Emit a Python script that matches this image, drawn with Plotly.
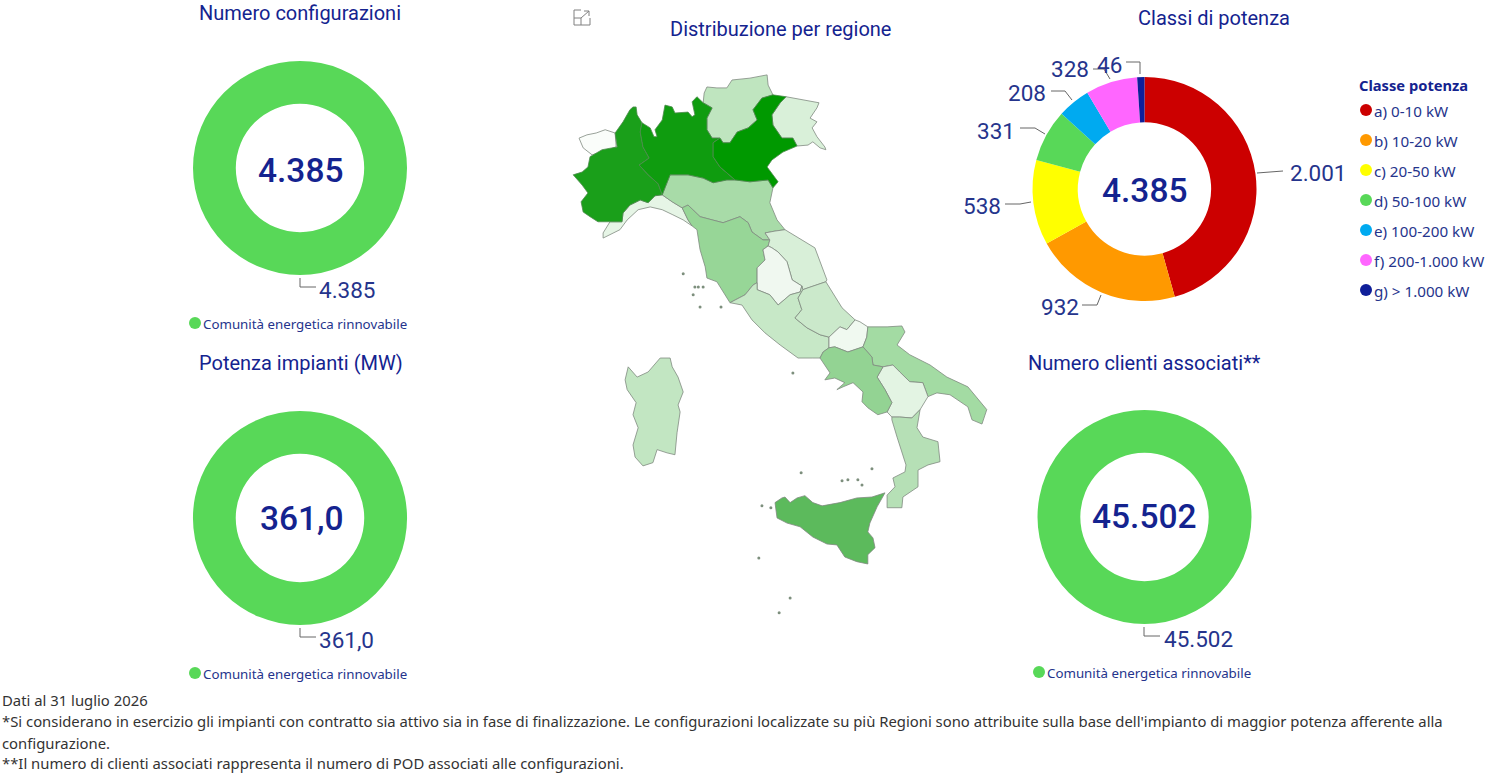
import plotly.graph_objects as go

# Page size
W = 1487
H = 774

# KPI values
configurazioni = 4385
potenza_mw = 361.0
clienti = 45502

# Power classes
classi = ["a) 0-10 kW", "b) 10-20 kW", "c) 20-50 kW", "d) 50-100 kW", "e) 100-200 kW", "f) 200-1.000 kW", "g) > 1.000 kW"]
classi_valori = [2001, 932, 538, 331, 208, 328, 46]
classi_colori = ["#cc0000", "#ff9900", "#ffff00", "#58d858", "#00aaf0", "#ff66ff", "#0f1f99"]

# Region outlines, (lon, lat)
valle_aosta = [(6.80,45.71),(7.03,45.78),(7.30,45.82),(7.56,45.89),(7.85,45.82),(7.88,45.52),(7.56,45.43),(7.18,45.35),(6.92,45.50)]
piemonte = [(8.37,46.38),(8.46,46.38),(8.49,46.21),(8.63,46.04),(8.58,45.84),(8.66,45.52),(8.84,45.28),(8.55,45.13),(8.81,44.92),(9.10,44.73),(9.22,44.49),(9.01,44.47),(8.81,44.32),(8.58,44.38),(8.28,44.27),(8.08,44.10),(8.05,43.91),(7.70,43.91),(7.35,43.91),(7.12,44.02),(6.92,44.12),(6.86,44.34),(7.06,44.53),(6.89,44.70),(6.63,44.92),(6.89,44.98),(7.06,45.09),(7.12,45.31),(7.47,45.46),(7.91,45.52),(7.85,45.82),(8.08,46.06),(8.28,46.32)]
liguria = [(9.22,44.49),(9.51,44.34),(9.80,44.21),(9.97,43.95),(10.09,43.82),(9.83,43.95),(9.53,44.06),(9.22,44.17),(8.87,44.23),(8.52,44.17),(8.20,43.95),(7.99,43.74),(7.50,43.56),(7.50,43.67),(7.70,43.91),(8.05,43.91),(8.08,44.10),(8.28,44.27),(8.58,44.38),(8.81,44.32),(9.01,44.47)]
lombardia = [(8.58,45.84),(8.63,46.04),(8.87,45.93),(8.98,45.74),(9.07,45.74),(9.01,45.89),(9.22,46.10),(9.30,46.42),(9.51,46.38),(9.59,46.25),(9.97,46.27),(10.09,46.17),(10.17,46.21),(10.09,46.49),(10.23,46.60),(10.41,46.47),(10.67,46.36),(10.52,46.14),(10.52,45.89),(10.67,45.71),(10.90,45.71),(10.70,45.61),(10.70,45.31),(10.90,45.09),(11.34,44.81),(11.10,44.81),(10.70,44.75),(10.41,44.85),(9.97,44.92),(9.65,44.92),(9.45,44.92),(9.30,44.64),(9.22,44.49),(9.10,44.73),(8.81,44.92),(8.55,45.13),(8.84,45.28),(8.66,45.52)]
veneto = [(10.90,45.71),(10.99,45.61),(11.19,45.61),(11.40,45.84),(11.72,45.93),(11.98,46.10),(11.86,46.32),(12.12,46.57),(12.44,46.64),(12.82,46.60),(12.65,46.47),(12.41,46.21),(12.44,45.99),(12.70,45.71),(13.02,45.71),(13.14,45.54),(12.73,45.41),(12.41,45.24),(12.27,45.09),(12.44,44.92),(12.59,44.77),(12.44,44.64),(12.30,44.81),(11.77,44.77),(11.34,44.81),(10.90,45.09),(10.70,45.31),(10.70,45.61)]
friuli = [(12.82,46.60),(13.31,46.53),(13.78,46.47),(13.72,46.36),(13.52,46.14),(13.72,46.06),(13.58,45.93),(13.72,45.74),(13.95,45.52),(13.98,45.46),(13.81,45.50),(13.60,45.63),(13.46,45.56),(13.14,45.54),(13.02,45.71),(12.70,45.71),(12.44,45.99),(12.41,46.21),(12.65,46.47)]
trentino = [(10.44,46.68),(10.52,46.81),(10.81,46.79),(11.10,46.79),(11.25,46.96),(11.77,47.00),(12.27,47.07),(12.30,46.85),(12.44,46.64),(12.12,46.57),(11.86,46.32),(11.98,46.10),(11.72,45.93),(11.40,45.84),(11.19,45.61),(10.99,45.61),(10.90,45.71),(10.67,45.71),(10.52,45.89),(10.52,46.14),(10.67,46.36),(10.41,46.47)]
emilia = [(9.22,44.49),(9.30,44.64),(9.45,44.92),(9.65,44.92),(9.97,44.92),(10.41,44.85),(10.70,44.75),(11.10,44.81),(11.34,44.81),(11.77,44.77),(12.30,44.81),(12.44,44.64),(12.35,44.32),(12.56,43.95),(12.79,43.74),(12.50,43.71),(12.21,43.67),(12.35,43.52),(12.15,43.52),(11.83,43.69),(11.72,43.89),(11.48,44.02),(10.99,43.89),(10.67,43.95),(10.32,44.02),(9.97,44.27),(9.80,44.21),(9.51,44.34)]
toscana = [(9.97,43.95),(10.09,43.82),(10.23,43.74),(10.32,43.31),(10.47,42.94),(10.52,42.70),(10.81,42.62),(10.99,42.40),(11.19,42.17),(11.63,42.34),(11.86,42.55),(11.98,42.60),(11.98,42.92),(12.21,43.09),(12.15,43.31),(12.30,43.39),(12.35,43.52),(12.15,43.52),(11.83,43.69),(11.72,43.89),(11.48,44.02),(10.99,43.89),(10.67,43.95),(10.32,44.02),(9.97,44.27),(9.80,44.21)]
marche = [(12.35,43.52),(12.21,43.67),(12.50,43.71),(12.79,43.74),(13.66,43.35),(14.01,42.66),(13.98,42.62),(13.46,42.49),(13.31,42.45),(13.28,42.53),(13.00,42.66),(12.85,43.05),(12.59,43.26),(12.41,43.35),(12.30,43.39)]
umbria = [(12.15,43.31),(12.30,43.39),(12.41,43.35),(12.59,43.26),(12.85,43.05),(13.00,42.66),(13.28,42.53),(13.23,42.40),(12.94,42.34),(12.59,42.12),(12.35,42.34),(11.98,42.45),(11.98,42.60),(11.98,42.92),(12.21,43.09)]
lazio = [(11.19,42.17),(11.63,42.34),(11.86,42.55),(11.98,42.60),(11.98,42.45),(12.35,42.34),(12.59,42.12),(12.94,42.34),(13.23,42.40),(13.28,42.53),(13.31,42.45),(13.17,42.27),(13.28,42.02),(13.08,41.84),(13.43,41.63),(13.81,41.48),(14.07,41.43),(14.07,41.20),(13.90,41.11),(13.81,40.98),(13.60,40.98),(13.17,40.98),(12.65,41.26),(12.21,41.52),(11.83,41.80),(11.54,42.12)]
abruzzo = [(13.98,42.62),(14.45,42.06),(14.83,41.80),(14.59,41.59),(14.39,41.65),(14.07,41.43),(13.81,41.48),(13.43,41.63),(13.08,41.84),(13.28,42.02),(13.17,42.27),(13.31,42.45),(13.46,42.49)]
molise = [(14.83,41.80),(14.97,41.76),(15.20,41.65),(15.17,41.43),(15.06,41.22),(14.83,41.16),(14.62,41.11),(14.24,41.22),(14.07,41.20),(14.07,41.43),(14.39,41.65),(14.59,41.59)]
puglia = [(15.20,41.65),(15.76,41.65),(16.19,41.67),(16.28,41.54),(16.05,41.26),(16.42,41.05),(17.01,40.83),(17.50,40.57),(18.11,40.36),(18.66,39.87),(18.52,39.56),(18.23,39.65),(18.11,39.93),(17.59,40.19),(17.21,40.23),(16.95,40.15),(16.80,40.45),(16.42,40.47),(16.13,40.68),(15.93,40.83),(15.64,40.79),(15.35,40.83),(15.32,41.00),(15.06,41.22),(15.17,41.43)]
campania = [(14.07,41.20),(14.24,41.22),(14.62,41.11),(14.83,41.16),(15.06,41.22),(15.32,41.00),(15.35,40.83),(15.64,40.79),(15.47,40.57),(15.70,40.30),(15.90,40.02),(15.76,39.82),(15.49,39.76),(15.20,39.91),(15.03,40.04),(15.06,40.25),(14.77,40.45),(14.48,40.36),(14.30,40.30),(14.53,40.45),(14.24,40.55),(13.95,40.51),(14.10,40.66),(13.81,40.98),(13.90,41.11)]
basilicata = [(15.64,40.79),(15.93,40.83),(16.13,40.68),(16.42,40.47),(16.80,40.45),(16.95,40.15),(16.72,39.87),(16.48,39.69),(16.13,39.71),(15.90,39.71),(15.76,39.82),(15.90,40.02),(15.70,40.30),(15.47,40.57)]
calabria = [(15.90,39.71),(16.13,39.71),(16.48,39.69),(16.72,39.87),(16.63,39.48),(16.80,39.28),(17.24,39.18),(17.30,38.75),(16.95,38.68),(16.66,38.57),(16.66,38.21),(16.22,37.99),(16.19,37.76),(15.76,37.76),(15.76,38.03),(15.99,38.21),(15.93,38.40),(16.28,38.53),(16.31,38.68),(16.19,38.94),(16.05,39.28),(15.90,39.65)]
sicilia = [(15.70,38.08),(15.47,37.78),(15.26,37.43),(15.20,37.24),(15.35,37.11),(15.41,36.90),(15.20,36.75),(15.20,36.55),(14.88,36.60),(14.53,36.70),(14.30,36.96),(14.01,36.98),(13.60,37.13),(13.23,37.35),(12.85,37.43),(12.56,37.54),(12.50,37.87),(12.70,37.97),(12.79,37.99),(12.94,37.87),(13.14,37.97),(13.37,38.02),(13.60,37.87),(13.87,37.80),(14.39,37.87),(14.88,37.97),(15.32,37.99)]
sardegna = [(9.16,40.98),(9.45,40.98),(9.51,40.79),(9.68,40.57),(9.83,40.25),(9.68,39.97),(9.74,39.82),(9.65,39.37),(9.59,38.90),(9.36,38.94),(9.07,39.01),(8.95,38.73),(8.66,38.66),(8.43,38.85),(8.37,39.11),(8.52,39.48),(8.37,39.76),(8.46,40.02),(8.20,40.30),(8.14,40.51),(8.23,40.79),(8.49,40.57),(8.81,40.68)]
isole_lon = [9.83,10.17,10.27,10.41,10.12,10.32,10.93,13.02,14.91,15.03,15.32,14.45,14.62,13.26,12.12,12.38,12.03,12.94,12.62]
isole_lat = [42.79,42.51,42.51,42.51,42.34,42.08,42.08,40.66,38.36,38.25,38.60,38.34,38.36,38.51,37.80,37.76,36.68,35.82,35.50]

regioni = [
    ("Valle d'Aosta", valle_aosta, "#fafdfa"), ("Liguria", liguria, "#e6f5e6"), ("Trentino-Alto Adige", trentino, "#bfe5bf"),
    ("Friuli-Venezia Giulia", friuli, "#d9f0d9"), ("Emilia-Romagna", emilia, "#a8dba8"), ("Toscana", toscana, "#97d697"),
    ("Marche", marche, "#d8efd8"), ("Umbria", umbria, "#f0f8f0"), ("Lazio", lazio, "#c7e8c7"), ("Abruzzo", abruzzo, "#cbe9cb"),
    ("Molise", molise, "#f0f9f0"), ("Puglia", puglia, "#a3dba3"), ("Basilicata", basilicata, "#e3f4e3"), ("Campania", campania, "#93d393"),
    ("Calabria", calabria, "#b6e0b6"), ("Sicilia", sicilia, "#5cba5c"), ("Sardegna", sardegna, "#c2e6c2"),
    ("Piemonte", piemonte, "#1a9f1a"), ("Lombardia", lombardia, "#0f9c0f"), ("Veneto", veneto, "#009900"),
]

note = [
    "Dati al 31 luglio 2026",
    "*Si considerano in esercizio gli impianti con contratto sia attivo sia in fase di finalizzazione. Le configurazioni localizzate su più Regioni sono attribuite sulla base dell'impianto di maggior potenza afferente alla",
    "configurazione.",
    "**Il numero di clienti associati rappresenta il numero di POD associati alle configurazioni.",
]

BLU = "#14238f"
BLU_LABEL = "#25348c"
VERDE = "#58d858"
TITLE_FONT = "Roboto"
TEXT_FONT = "Noto Sans"


def px(x):
    return x / W


def py(y):
    return 1 - y / H


def fmt_int(v):
    return f"{v:,}".replace(",", ".")


def add_text(fig, x, y, text, size, color=BLU, family=TITLE_FONT, anchor="center", weight=400):
    fig.add_annotation(x=px(x), y=py(y), xref="paper", yref="paper", text=text, showarrow=False,
                       xanchor=anchor, yanchor="middle", font=dict(size=size, color=color, family=family, weight=weight), borderpad=0)


def add_leader(fig, points, color="#666666"):
    path = "M " + " L ".join(f"{px(x)} {py(y)}" for x, y in points)
    fig.add_shape(type="path", path=path, xref="paper", yref="paper", line=dict(color=color, width=1))


def add_dot(fig, x, y, color, r=6):
    fig.add_shape(type="circle", xref="paper", yref="paper", x0=px(x - r), x1=px(x + r), y0=py(y + r), y1=py(y - r),
                  fillcolor=color, line=dict(width=0))


def add_donut(fig, cx, cy, r, values, colors, labels, hole):
    fig.add_trace(go.Pie(values=values, labels=labels, hole=hole, sort=False, direction="clockwise", rotation=0,
                         marker=dict(colors=colors, line=dict(width=0)), textinfo="none", showlegend=False,
                         domain=dict(x=[px(cx - r), px(cx + r)], y=[py(cy + r), py(cy - r)])))


fig = go.Figure()

# Map
for nome, punti, colore in regioni:
    bordo = "#4e8a4e" if nome in ("Piemonte", "Lombardia", "Veneto") else "#808a80"
    lon = [p[0] for p in punti] + [punti[0][0]]
    lat = [p[1] for p in punti] + [punti[0][1]]
    fig.add_trace(go.Scatter(x=lon, y=lat, mode="lines", fill="toself", fillcolor=colore, name=nome,
                             line=dict(color=bordo, width=0.8), hoverinfo="name", showlegend=False))
fig.add_trace(go.Scatter(x=isole_lon, y=isole_lat, mode="markers", marker=dict(size=3, color="#7d8f7d"),
                         hoverinfo="skip", showlegend=False))

# Donuts
add_donut(fig, 300, 168, 107, [configurazioni], [VERDE], ["Comunità energetica rinnovabile"], 0.6)
add_donut(fig, 300, 518, 107, [potenza_mw], [VERDE], ["Comunità energetica rinnovabile"], 0.6)
add_donut(fig, 1144.5, 517, 107, [clienti], [VERDE], ["Comunità energetica rinnovabile"], 0.6)
add_donut(fig, 1144.5, 189, 112, classi_valori, classi_colori, classi, 0.595)

# Titles
add_text(fig, 300, 13, "Numero configurazioni", 20)
add_text(fig, 300.5, 363, "Potenza impianti (MW)", 20)
add_text(fig, 780, 29, "Distribuzione per regione", 20)
add_text(fig, 1214, 18, "Classi di potenza", 20)
add_text(fig, 1144, 363, "Numero clienti associati**", 20)

# Centre values
val_potenza = f"{potenza_mw:.1f}".replace(".", ",")
add_text(fig, 300, 170, fmt_int(configurazioni), 33.5, weight=500)
add_text(fig, 302, 518, val_potenza, 33.5, weight=500)
add_text(fig, 1144, 516, fmt_int(clienti), 33.5, weight=500)
add_text(fig, 1144, 190, fmt_int(sum(classi_valori) + 1), 33.5, weight=500)

# Outside labels on the single-slice donuts
add_leader(fig, [(300, 278), (300, 287), (316, 287)])
add_text(fig, 318, 290, fmt_int(configurazioni), 22.5, BLU_LABEL, anchor="left")
add_leader(fig, [(300, 628), (300, 637), (316, 637)])
add_text(fig, 318, 640, val_potenza, 22.5, BLU_LABEL, anchor="left")
add_leader(fig, [(1144, 627), (1144, 636), (1160, 636)])
add_text(fig, 1162.5, 639, fmt_int(clienti), 22.5, BLU_LABEL, anchor="left")

# Outside labels on the classes donut
etichette_pos = [(1318, 173), (1060, 307), (982, 206), (996, 131), (1027, 93), (1070, 69), (1109, 65)]
leader_pos = [
    [(1257, 173), (1270, 172), (1283, 171)],
    [(1082, 305), (1097, 305), (1101, 295)],
    [(1005, 204), (1020, 204), (1031, 202)],
    [(1020, 128), (1035, 128), (1045, 134)],
    [(1051, 91), (1065, 91), (1072, 100)],
    [(1093, 69), (1104, 69), (1110, 79)],
    [(1126, 62), (1140, 62), (1140, 74)],
]
for v, pos, lead in zip(classi_valori, etichette_pos, leader_pos):
    add_leader(fig, lead)
    add_text(fig, pos[0], pos[1], fmt_int(v), 22.5, BLU_LABEL)

# Legends
add_text(fig, 1358, 85, "<b>Classe potenza</b>", 14.7, BLU, TEXT_FONT, "left")
for i, (c, col) in enumerate(zip(classi, classi_colori)):
    y = 110 + 30 * i
    add_dot(fig, 1366, y, col)
    add_text(fig, 1372.5, y + 1, c, 15.2, BLU_LABEL, TEXT_FONT, "left")

for dx, dy in [(195, 323), (195, 673), (1039, 672)]:
    add_dot(fig, dx, dy, VERDE)
    add_text(fig, dx + 6.5, dy + 1, "Comunità energetica rinnovabile", 13.3, BLU_LABEL, TEXT_FONT, "left")

# Footer
for testo, y in zip(note, [700, 721, 743, 763]):
    add_text(fig, 0.5, y, testo, 14.85, "#333333", TEXT_FONT, "left")

# Focus icon above the map
add_leader(fig, [(581, 10), (574, 10), (574, 25), (590, 25), (590, 18)], "#808080")
add_leader(fig, [(574, 18), (581, 18), (581, 25)], "#808080")
add_leader(fig, [(581, 18), (589, 11)], "#808080")
add_leader(fig, [(584, 11), (589, 11), (589, 16)], "#808080")

fig.update_layout(
    width=W, height=H, margin=dict(l=0, r=0, t=0, b=0), autosize=False,
    paper_bgcolor="white", plot_bgcolor="white", showlegend=False,
    xaxis=dict(domain=[px(545), px(1005)], range=[5.81, 19.19], visible=False, fixedrange=True),
    yaxis=dict(domain=[py(630), py(60)], range=[35.13, 47.39], visible=False, fixedrange=True),
)
fig.write_html("out.html", config=dict(displayModeBar=False), post_script="document.body.style.margin='0';")
